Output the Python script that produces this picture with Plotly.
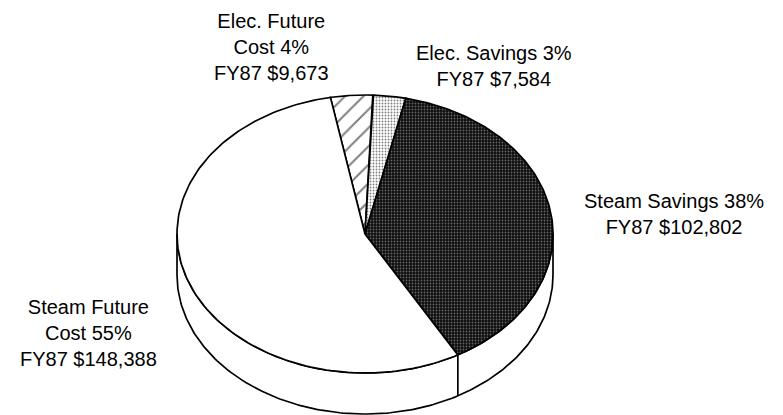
import numpy as np
import plotly.graph_objects as go

# ---- data ----
categories = ["Elec. Future Cost", "Elec. Savings", "Steam Savings", "Steam Future Cost"]
label_names = ["Elec. Future<br>Cost", "Elec. Savings", "Steam Savings", "Steam Future<br>Cost"]
values = [9673, 7584, 102802, 148388]
fiscal_year = "FY87"

# ---- geometry / style (pixels) ----
W, H = 783, 415
cx, cy = 365, 234
a, b = 188, 139
depth = 41
start_deg = -10.6
line_w = 1.7

total = sum(values)
fracs = [v / total for v in values]

def pt(theta_deg, dy=0.0):
    t = np.radians(theta_deg)
    return cx + a * np.sin(t), cy - b * np.cos(t) + dy

fig = go.Figure()

# side wall (front half of the cylinder)
th_front = np.linspace(90, 270, 200)
tx, ty = pt(th_front)
bx, by = pt(th_front[::-1], depth)
fig.add_trace(go.Scatter(
    x=np.concatenate([tx, bx, tx[:1]]), y=np.concatenate([ty, by, ty[:1]]),
    mode="lines", fill="toself", fillcolor="white",
    line=dict(color="black", width=line_w), hoverinfo="skip", showlegend=False))

# slice boundaries
bounds = [start_deg]
for f in fracs:
    bounds.append(bounds[-1] + f * 360)

# vertical edges on the side wall where slice boundaries fall in front
for th in bounds[1:-1]:
    thn = th % 360
    if 90 < thn < 270:
        x0, y0 = pt(thn)
        x1, y1 = pt(thn, depth)
        fig.add_trace(go.Scatter(x=[x0, x1], y=[y0, y1], mode="lines",
                                 line=dict(color="black", width=line_w),
                                 hoverinfo="skip", showlegend=False))

patterns = [
    dict(shape="/", fgcolor="black", bgcolor="white", size=13, solidity=0.15),
    dict(shape=".", fgcolor="#000000", bgcolor="white", size=3, solidity=0.3),
    dict(shape=".", fgcolor="#bdbdbd", bgcolor="#0d0d0d", size=3, solidity=0.28),
    None,
]

for i, cat in enumerate(categories):
    th = np.linspace(bounds[i], bounds[i + 1], 150)
    ax_, ay_ = pt(th)
    xs = np.concatenate([[cx], ax_, [cx]])
    ys = np.concatenate([[cy], ay_, [cy]])
    kw = {}
    if patterns[i] is not None:
        kw["fillpattern"] = patterns[i]
        fc = patterns[i]["bgcolor"]
    else:
        fc = "white"
    fig.add_trace(go.Scatter(x=xs, y=ys, mode="lines", fill="toself", fillcolor=fc,
                             line=dict(color="black", width=line_w),
                             name=cat, hoverinfo="name", showlegend=False, **kw))

# labels
label_pos = [(271, 47), (494, 66), (674, 214), (88, 333)]
for i, name in enumerate(label_names):
    pct = round(fracs[i] * 100)
    text = f"{name} {pct}%<br>{fiscal_year} ${values[i]:,}"
    fig.add_annotation(x=label_pos[i][0], y=label_pos[i][1], text=text,
                       showarrow=False, align="center",
                       xanchor="center", yanchor="middle",
                       font=dict(family="Liberation Sans, Arial, sans-serif",
                                 size=20, color="black"))

fig.update_layout(
    width=W, height=H, margin=dict(l=0, r=0, t=0, b=0),
    paper_bgcolor="white", plot_bgcolor="white",
    xaxis=dict(range=[0, W], visible=False, fixedrange=True),
    yaxis=dict(range=[H, 0], visible=False, fixedrange=True),
    showlegend=False,
)

fig.write_html("out.html", config={"displayModeBar": False},
               post_script="document.body.style.margin='0';document.body.style.overflow='hidden';")
